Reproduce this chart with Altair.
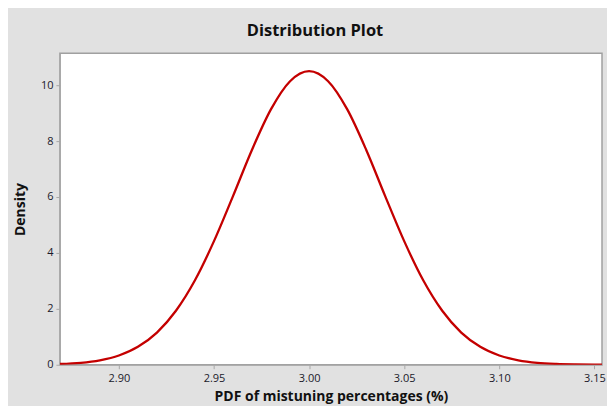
import altair as alt
import pandas as pd

# values
x_vals = [2.869, 2.88, 2.89, 2.90, 2.91, 2.92, 2.93, 2.94, 2.95, 2.96, 2.97, 2.98, 2.99,
          3.00, 3.01, 3.02, 3.03, 3.04, 3.05, 3.06, 3.07, 3.08, 3.09, 3.10, 3.11,
          3.12, 3.13, 3.14, 3.15, 3.154]
density = [0.03, 0.07, 0.16, 0.33, 0.64, 1.15, 1.93, 3.02, 4.42, 6.03, 7.69, 9.14, 10.14,
           10.50, 10.14, 9.14, 7.69, 6.03, 4.42, 3.02, 1.93, 1.15, 0.64, 0.33, 0.16,
           0.07, 0.03, 0.012, 0.004, 0.003]
x_ticks = [2.90, 2.95, 3.00, 3.05, 3.10, 3.15]
y_ticks = [0, 2, 4, 6, 8, 10]

df = pd.DataFrame({"x": x_vals, "density": density})

font = "Open Sans"

chart = alt.Chart(df).mark_line(
    color="#c40000", strokeWidth=2.3, interpolate="monotone", clip=True
).encode(
    x=alt.X("x:Q",
            scale=alt.Scale(domain=[2.869, 3.154], nice=False, zero=False),
            axis=alt.Axis(values=x_ticks, format=".2f",
                          title="PDF of mistuning percentages (%)")),
    y=alt.Y("density:Q",
            scale=alt.Scale(domain=[0, 11.14], nice=False),
            axis=alt.Axis(values=y_ticks, format="d", title="Density")),
).properties(
    width=543,
    height=312,
    background="#e1e1e1",
    padding={"left": 52, "top": 45, "right": 5, "bottom": 41},
    autosize=alt.AutoSizeParams(type="none"),
    title=alt.TitleParams("Distribution Plot", font=font, fontSize=16.5,
                          fontWeight="bold", color="#111111", anchor="middle",
                          dx=-16, offset=14),
).configure_view(
    fill="white", stroke="#a0a0a0", strokeWidth=1.5
).configure_axis(
    grid=False,
    domainColor="#a8a8a8",
    tickColor="#a8a8a8",
    tickSize=4,
    labelFont=font,
    labelFontSize=11,
    labelColor="#1a1a2a",
    titleFont=font,
    titleFontSize=14,
    titleFontWeight="bold",
    titleColor="#111111",
).configure_axisX(
    labelPadding=4, titlePadding=6
).configure_axisY(
    labelPadding=3, titlePadding=13
)

chart.save("out.html", embed_options={"renderer": "svg", "actions": False})
